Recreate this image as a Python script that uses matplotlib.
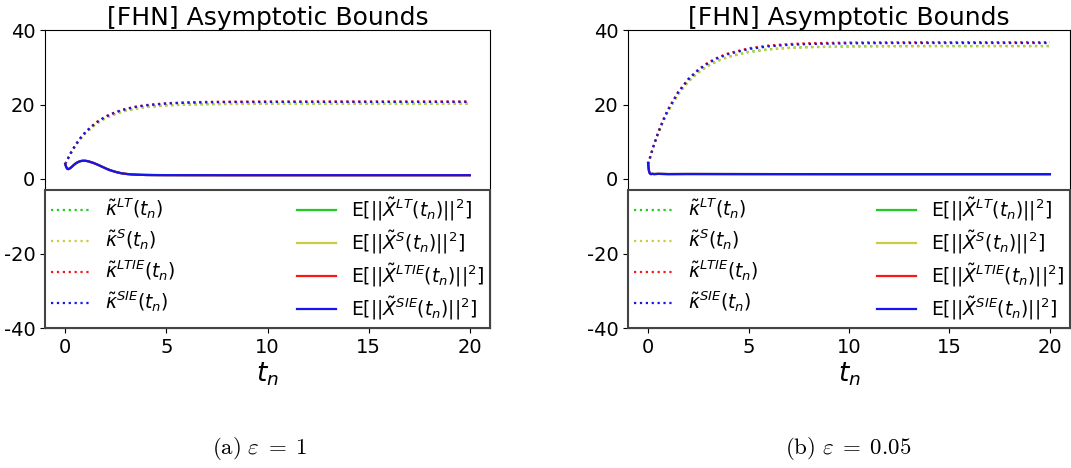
import matplotlib
matplotlib.use("Agg")
import matplotlib.pyplot as plt

plt.rcParams['mathtext.fontset'] = 'dejavusans'
plt.rcParams['axes.unicode_minus'] = False

# ---------------- data ----------------
t_kappa = [0, 0.25, 0.5, 0.75, 1, 1.5, 2, 2.5, 3, 3.5, 4, 5, 6, 7, 8, 10, 12, 14, 16, 18, 20]

# panel (a) eps = 1
a_kappa_LT   = [4.0, 6.67, 8.90, 10.76, 12.31, 14.70, 16.36, 17.52, 18.34, 18.90, 19.30, 19.76, 19.99, 20.09, 20.15, 20.19, 20.2, 20.2, 20.2, 20.2, 20.2]
a_kappa_S    = [4.0, 6.65, 8.88, 10.73, 12.28, 14.67, 16.33, 17.49, 18.31, 18.87, 19.27, 19.73, 19.96, 20.06, 20.12, 20.16, 20.17, 20.17, 20.17, 20.17, 20.17]
a_kappa_LTIE = [4.0, 6.78, 9.09, 11.01, 12.62, 15.09, 16.81, 18.01, 18.86, 19.45, 19.86, 20.35, 20.58, 20.70, 20.76, 20.80, 20.81, 20.81, 20.81, 20.81, 20.81]
a_kappa_SIE  = [4.0, 6.75, 9.05, 10.97, 12.57, 15.03, 16.74, 17.94, 18.78, 19.36, 19.77, 20.25, 20.48, 20.59, 20.65, 20.69, 20.7, 20.7, 20.7, 20.7, 20.7]

t_a_E = [0, 0.05, 0.1, 0.15, 0.2, 0.3, 0.4, 0.5, 0.6, 0.7, 0.8, 0.9, 1.0, 1.1, 1.2, 1.4, 1.6, 1.8, 2.0,
         2.2, 2.4, 2.6, 2.8, 3.0, 3.3, 3.6, 4.0, 4.5, 5, 6, 8, 10, 15, 20]
a_E_SIE = [4.0, 3.2, 2.75, 2.65, 2.75, 3.15, 3.65, 4.1, 4.45, 4.7, 4.85, 4.9, 4.88, 4.8, 4.65, 4.3, 3.85, 3.35, 2.85,
           2.4, 2.05, 1.75, 1.52, 1.37, 1.22, 1.14, 1.08, 1.05, 1.04, 1.03, 1.02, 1.02, 1.02, 1.02]
a_E_LT = a_E_SIE
a_E_S = a_E_SIE
a_E_LTIE = a_E_SIE

# panel (b) eps = 0.05
b_kappa_LT   = [4.0, 8.41, 12.21, 15.48, 18.29, 22.79, 26.15, 28.62, 30.46, 31.82, 32.81, 34.11, 34.82, 35.21, 35.42, 35.61, 35.67, 35.7, 35.7, 35.7, 35.7]
b_kappa_S    = [4.0, 8.38, 12.17, 15.44, 18.24, 22.73, 26.09, 28.56, 30.40, 31.76, 32.75, 34.05, 34.76, 35.15, 35.36, 35.55, 35.61, 35.64, 35.64, 35.64, 35.64]
b_kappa_LTIE = [4.0, 8.56, 12.48, 15.85, 18.76, 23.39, 26.86, 29.41, 31.32, 32.72, 33.75, 35.09, 35.82, 36.23, 36.45, 36.64, 36.70, 36.72, 36.72, 36.72, 36.72]
b_kappa_SIE  = [4.0, 8.52, 12.42, 15.77, 18.66, 23.27, 26.72, 29.25, 31.14, 32.53, 33.55, 34.88, 35.61, 36.01, 36.23, 36.42, 36.48, 36.5, 36.5, 36.5, 36.5]

t_b_E = [0, 0.02, 0.04, 0.06, 0.1, 0.15, 0.2, 0.3, 0.5, 1, 2, 5, 10, 15, 20]
b_E_SIE = [4.3, 3.2, 2.3, 1.8, 1.45, 1.3, 1.4, 1.32, 1.38, 1.32, 1.34, 1.32, 1.3, 1.3, 1.3]
b_E_LT = b_E_SIE
b_E_S = b_E_SIE
b_E_LTIE = b_E_SIE

labels_kappa = [r'$\tilde{\kappa}^{LT}(t_n)$', r'$\tilde{\kappa}^{S}(t_n)$',
                r'$\tilde{\kappa}^{LTIE}(t_n)$', r'$\tilde{\kappa}^{SIE}(t_n)$']
labels_E = [r'E[$||\tilde{X}^{LT}(t_n)||^2$]', r'E[$||\tilde{X}^{S}(t_n)||^2$]',
            r'E[$||\tilde{X}^{LTIE}(t_n)||^2$]', r'E[$||\tilde{X}^{SIE}(t_n)||^2$]']
colors = ['#22cc22', '#cccc44', '#ff1515', '#1515ee']
yticks = [-40, -20, 0, 20, 40]
xticks = [0, 5, 10, 15, 20]
title = '[FHN] Asymptotic Bounds'
captions = [r'$\mathrm{(a)}\ \varepsilon\;=\;1$', r'$\mathrm{(b)}\ \varepsilon\;=\;0.05$']
caption_x = [260 / 1071, 848 / 1071]

panels = [
    (t_kappa, [a_kappa_LT, a_kappa_S, a_kappa_LTIE, a_kappa_SIE], t_a_E, [a_E_LT, a_E_S, a_E_LTIE, a_E_SIE]),
    (t_kappa, [b_kappa_LT, b_kappa_S, b_kappa_LTIE, b_kappa_SIE], t_b_E, [b_E_LT, b_E_S, b_E_LTIE, b_E_SIE]),
]

fig = plt.figure(figsize=(10.71, 4.68), dpi=100)
positions = [[45/1071, 1-328/468, 445/1071, 298/468],
             [628/1071, 1-328/468, 442/1071, 298/468]]

for i, (tk, kap, te, ev) in enumerate(panels):
    ax = fig.add_axes(positions[i])
    for c, y, lab in zip(colors, kap, labels_kappa):
        ax.plot(tk, y, linestyle=':', color=c, lw=1.6, label=lab)
    for c, y, lab in zip(colors, ev, labels_E):
        ax.plot(te, y, linestyle='-', color=c, lw=1.6, label=lab)
    ax.set_xlim(-1, 21)
    ax.set_ylim(-40, 40)
    ax.set_yticks(yticks)
    ax.set_xticks(xticks)
    ax.tick_params(labelsize=14)
    ax.set_title(title, fontsize=18, pad=2)
    ax.set_xlabel(r'$t_n$', fontsize=19, labelpad=3)
    leg = ax.legend(loc='lower left', bbox_to_anchor=(0, 0, 1, 1), mode='expand', ncol=2,
                    borderaxespad=0, fontsize=13.5, fancybox=False, framealpha=1,
                    edgecolor='#444444', handlelength=2.1, labelspacing=0.33,
                    borderpad=0.3)
    leg.get_frame().set_linewidth(1.5)
    fig.text(caption_x[i], 1 - 449/468, captions[i], ha='center', va='center', fontsize=16.5,
             math_fontfamily='cm')

fig.savefig('out.png', dpi=100)
